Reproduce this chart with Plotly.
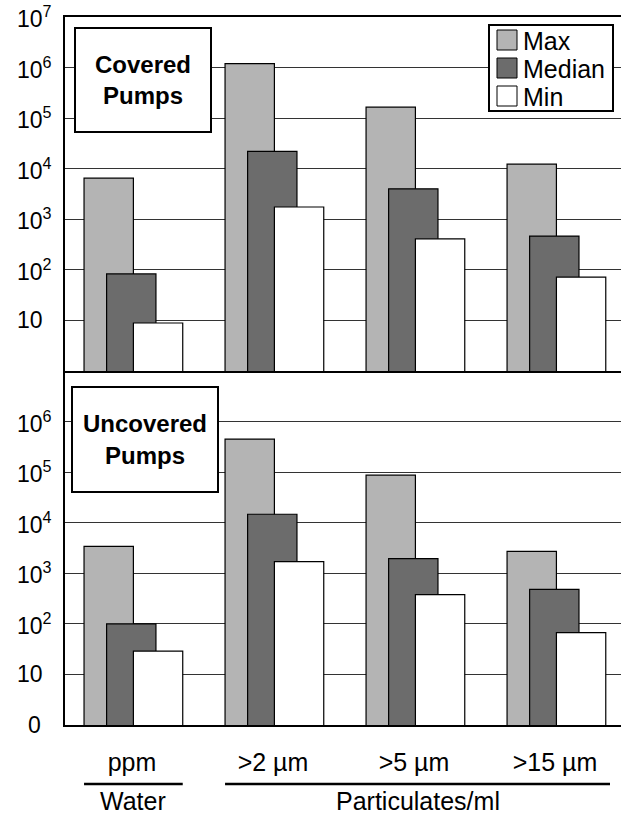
import plotly.graph_objects as go

# ---------------- data ----------------
categories = ["ppm", ">2 µm", ">5 µm", ">15 µm"]
series_names = ["Max", "Median", "Min"]

covered_max = [6500, 1.2e6, 1.65e5, 12300]
covered_median = [83, 22000, 4000, 465]
covered_min = [8.9, 1750, 410, 72]

uncovered_max = [3400, 4.5e5, 87000, 2700]
uncovered_median = [100, 14700, 1950, 480]
uncovered_min = [29, 1700, 380, 67]

top_tick_exponents = [1, 2, 3, 4, 5, 6, 7]
top_tick_labels = ["10", "10<sup>2</sup>", "10<sup>3</sup>", "10<sup>4</sup>",
                   "10<sup>5</sup>", "10<sup>6</sup>", "10<sup>7</sup>"]
bottom_tick_exponents = [0, 1, 2, 3, 4, 5, 6]
bottom_tick_labels = ["0", "10", "10<sup>2</sup>", "10<sup>3</sup>",
                      "10<sup>4</sup>", "10<sup>5</sup>", "10<sup>6</sup>"]

group_labels = ["Water", "Particulates/ml"]
group_members = [[0], [1, 2, 3]]
panel_titles = ["Covered<br>Pumps", "Uncovered<br>Pumps"]

# ---------------- styles ----------------
FONT = "Liberation Sans, Arial, Helvetica, sans-serif"
fills = {"Max": "#b4b4b4", "Median": "#6c6c6c", "Min": "#ffffff"}
offsets = {"Max": -0.34, "Median": -0.18, "Min": 0.01}
BAR_W = 0.35

W, H = 621, 816
ML, MR, MT, MB = 65, 0, 17, 91
PW, PH = W - ML - MR, H - MT - MB


def px_x(p):
    return (p - ML) / PW


def px_y(p):
    return 1 - (p - MT) / PH


xs = list(range(len(categories)))
fig = go.Figure()

panels = [
    ("x2", "y2", [covered_max, covered_median, covered_min], True),
    ("x", "y", [uncovered_max, uncovered_median, uncovered_min], False),
]
for xa, ya, vals, first in panels:
    for name, v in zip(series_names, vals):
        fig.add_trace(go.Bar(
            x=xs, y=v, name=name, xaxis=xa, yaxis=ya,
            offset=offsets[name], width=BAR_W,
            marker=dict(color=fills[name], line=dict(color="black", width=1.2)),
            legendgroup=name, showlegend=False,
        ))

grid_vals = [10 ** k for k in range(1, 7)]
yax = dict(type="log", range=[0, 7], tickvals=grid_vals, showticklabels=False,
           showgrid=True, gridcolor="#333333", gridwidth=1,
           showline=True, linecolor="black", linewidth=2, zeroline=False, ticks="")

fig.update_layout(
    width=W, height=H,
    margin=dict(l=ML, r=MR, t=MT, b=MB),
    paper_bgcolor="white", plot_bgcolor="white",
    barmode="overlay", showlegend=False,
    font=dict(family=FONT, color="black"),
    xaxis=dict(domain=[0, 1], range=[-0.475, 3.468], anchor="y",
               tickvals=xs, ticktext=categories, tickfont=dict(size=25),
               ticks="", ticklabelstandoff=14,
               showgrid=False, zeroline=False,
               showline=True, linecolor="black", linewidth=2),
    xaxis2=dict(domain=[0, 1], matches="x", anchor="y2", showticklabels=False,
                ticks="", showgrid=False, zeroline=False,
                showline=True, mirror=True, linecolor="black", linewidth=2),
    yaxis=dict(domain=[0, 0.5], **yax),
    yaxis2=dict(domain=[0.5, 1], **yax),
)

annotations = []
shapes = []

# y tick labels
for e, t in zip(top_tick_exponents, top_tick_labels):
    annotations.append(dict(text=t, xref="paper", yref="y2", x=0, y=e,
                            xanchor="left", yanchor="middle", xshift=-50,
                            showarrow=False, font=dict(size=23)))
for e, t in zip(bottom_tick_exponents, bottom_tick_labels):
    if t == "0":
        annotations.append(dict(text=t, xref="paper", yref="y", x=0, y=e,
                                xanchor="right", yanchor="middle", xshift=-22,
                                showarrow=False, font=dict(size=23)))
    else:
        annotations.append(dict(text=t, xref="paper", yref="y", x=0, y=e,
                                xanchor="left", yanchor="middle", xshift=-50,
                                showarrow=False, font=dict(size=23)))

# panel titles
annotations.append(dict(text="<b>" + panel_titles[0] + "</b>", xref="paper", yref="paper",
                        x=px_x(143), y=px_y(80), xanchor="center", yanchor="middle",
                        showarrow=False, font=dict(size=24),
                        bgcolor="white", bordercolor="black", borderwidth=2,
                        borderpad=0, width=134, height=102))
annotations.append(dict(text="<b>" + panel_titles[1] + "</b>", xref="paper", yref="paper",
                        x=px_x(145), y=px_y(439.5), xanchor="center", yanchor="middle",
                        showarrow=False, font=dict(size=24),
                        bgcolor="white", bordercolor="black", borderwidth=2,
                        borderpad=0, width=144, height=103))

# legend (box, swatches, labels)
shapes.append(dict(type="rect", xref="paper", yref="paper", layer="above",
                   x0=px_x(489), x1=px_x(613), y0=px_y(111), y1=px_y(25),
                   fillcolor="white", line=dict(color="black", width=2)))
for i, name in enumerate(series_names):
    cy = 40 + i * 28
    shapes.append(dict(type="rect", xref="paper", yref="paper", layer="above",
                       x0=px_x(497), x1=px_x(517), y0=px_y(cy + 10), y1=px_y(cy - 10),
                       fillcolor=fills[name], line=dict(color="black", width=1)))
    annotations.append(dict(text=name, xref="paper", yref="paper",
                            x=px_x(521), y=px_y(cy + 1), xanchor="left", yanchor="middle",
                            showarrow=False, font=dict(size=25)))

# group labels and underlines
for label, members in zip(group_labels, group_members):
    x0 = members[0] - 0.34
    x1 = members[-1] + 0.36 if len(members) == 1 else members[-1] + 0.39
    shapes.append(dict(type="line", xref="x", yref="paper", x0=x0, x1=x1,
                       y0=px_y(725 + 59), y1=px_y(725 + 59),
                       line=dict(color="black", width=2.5)))
    annotations.append(dict(text=label, xref="x", yref="paper",
                            x=(x0 + x1) / 2, y=px_y(725 + 76), xanchor="center",
                            yanchor="middle", showarrow=False, font=dict(size=25)))

fig.update_layout(annotations=annotations, shapes=shapes)
fig.write_html("out.html")
